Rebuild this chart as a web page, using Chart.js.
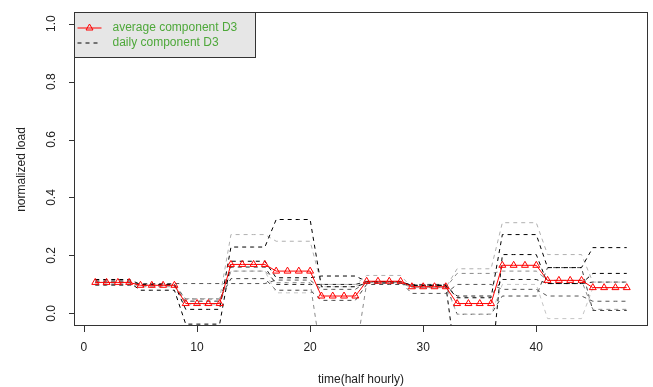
<!DOCTYPE html>
<html>
<head>
<meta charset="utf-8">
<script src="https://cdn.jsdelivr.net/npm/chart.js@4/dist/chart.umd.min.js"></script>
<style>
html,body{margin:0;padding:0;background:#fff;}
#wrap{width:653px;height:387px;position:relative;}
</style>
</head>
<body>
<div id="wrap"><canvas id="c" width="653" height="387"></canvas></div>
<script>
// ---- data ----
const timeSlots = [1,2,3,4,5,6,7,8,9,10,11,12,13,14,15,16,17,18,19,20,21,22,23,24,25,26,27,28,29,30,31,32,33,34,35,36,37,38,39,40,41,42,43,44,45,46,47,48];
const xTicks = [0,10,20,30,40];
const yTicks = [0.0,0.2,0.4,0.6,0.8,1.0];
const yTickLabels = ["0.0","0.2","0.4","0.6","0.8","1.0"];

const averageD3 = [0.107,0.107,0.107,0.107, 0.097,0.097,0.097,0.097, 0.034,0.034,0.034,0.034, 0.169,0.169,0.169,0.169, 0.146,0.146,0.146,0.146, 0.060,0.060,0.060,0.060, 0.111,0.111,0.111,0.111, 0.092,0.092,0.092,0.092, 0.034,0.034,0.034,0.034, 0.166,0.166,0.166,0.166, 0.114,0.114,0.114,0.114, 0.089,0.089,0.089,0.089];

const daily1 = [0.117,0.117,0.117,0.117, 0.100,0.100,0.100,0.100, 0.014,0.014,0.014,0.014, 0.229,0.229,0.229,0.229, 0.324,0.324,0.324,0.324, 0.092,0.092,0.092,0.092, 0.105,0.105,0.105,0.105, 0.097,0.097,0.097,0.097, 0.054,0.054,0.054,0.054, 0.272,0.272,0.272,0.272, 0.158,0.158,0.158,0.158, 0.227,0.227,0.227,0.227];
const daily2 = [0.107,0.107,0.107,0.107, 0.092,0.092,0.092,0.092, 0.051,0.051,0.051,0.051, 0.272,0.272,0.272,0.272, 0.249,0.249,0.249,0.249, 0.100,0.100,0.100,0.100, 0.131,0.131,0.131,0.131, 0.089,0.089,0.089,0.089, 0.154,0.154,0.154,0.154, 0.313,0.313,0.313,0.313, 0.203,0.203,0.203,0.203, 0.108,0.108,0.108,0.108];
const daily3 = [0.107,0.107,0.107,0.107, 0.080,0.080,0.080,0.080, -0.037,-0.037,-0.037,-0.037, 0.180,0.180,0.180,0.180, 0.123,0.123,0.123,0.123, 0.129,0.129,0.129,0.129, 0.110,0.110,0.110,0.110, 0.097,0.097,0.097,0.097, -0.200,-0.200,-0.200,-0.200, 0.203,0.203,0.203,0.203, 0.103,0.103,0.103,0.103, 0.138,0.138,0.138,0.138];
const daily4 = [0.100,0.100,0.100,0.100, 0.103,0.103,0.103,0.103, 0.103,0.103,0.103,0.103, 0.103,0.103,0.103,0.103, 0.115,0.115,0.115,0.115, 0.083,0.083,0.083,0.083, 0.108,0.108,0.108,0.108, 0.069,0.069,0.069,0.069, 0.100,0.100,0.100,0.100, 0.083,0.083,0.083,0.083, 0.060,0.060,0.060,0.060, 0.042,0.042,0.042,0.042];
const daily5 = [0.110,0.110,0.110,0.110, 0.097,0.097,0.097,0.097, 0.042,0.042,0.042,0.042, 0.146,0.146,0.146,0.146, 0.106,0.106,0.106,0.106, -0.150,-0.150,-0.150,-0.150, 0.105,0.105,0.105,0.105, 0.089,0.089,0.089,0.089, 0.138,0.138,0.138,0.138, 0.146,0.146,0.146,0.146, 0.114,0.114,0.114,0.114, 0.014,0.014,0.014,0.014];
const daily6 = [0.112,0.112,0.112,0.112, 0.095,0.095,0.095,0.095, 0.042,0.042,0.042,0.042, 0.160,0.160,0.160,0.160, 0.100,0.100,0.100,0.100, 0.100,0.100,0.100,0.100, 0.110,0.110,0.110,0.110, 0.095,0.095,0.095,0.095, 0.060,0.060,0.060,0.060, 0.117,0.117,0.117,0.117, 0.103,0.103,0.103,0.103, 0.108,0.108,0.108,0.108];
const daily7 = [0.103,0.103,0.103,0.103, 0.100,0.100,0.100,0.100, 0.030,0.030,0.030,0.030, 0.146,0.146,0.146,0.146, 0.071,0.071,0.071,0.071, 0.092,0.092,0.092,0.092, 0.110,0.110,0.110,0.110, 0.092,0.092,0.092,0.092, -0.003,-0.003,-0.003,-0.003, 0.100,0.100,0.100,0.100, -0.018,-0.018,-0.018,-0.018, 0.088,0.088,0.088,0.088];
const daily8 = [0.097,0.097,0.097,0.097, 0.100,0.100,0.100,0.100, 0.050,0.050,0.050,0.050, 0.120,0.120,0.120,0.120, 0.080,0.080,0.080,0.080, 0.045,0.045,0.045,0.045, 0.100,0.100,0.100,0.100, 0.100,0.100,0.100,0.100, -0.003,-0.003,-0.003,-0.003, 0.060,0.060,0.060,0.060, 0.158,0.158,0.158,0.158, 0.010,0.010,0.010,0.010];

const dailySeries = [daily1,daily2,daily3,daily4,daily5,daily6,daily7,daily8];
const dailyColors = ["#000000","#b0b0b0","#000000","#555555","#8a8a8a","#222222","#c4c4c4","#444444"];

const legendLabels = ["average component D3","daily component D3"];
const xTitle = "time(half hourly)";
const yTitle = "normalized load";

// ---- build datasets ----
function pts(arr){ return timeSlots.map((t,i)=>({x:t,y:arr[i]})); }
const datasets = [{
  label: legendLabels[0],
  data: pts(averageD3),
  borderColor: "#ff0000",
  borderWidth: 1,
  pointStyle: "triangle",
  pointRadius: 4,
  pointBorderColor: "#ff0000",
  pointBackgroundColor: "rgba(0,0,0,0)",
  pointBorderWidth: 1,
  fill: false,
  tension: 0,
  clip: 0
}];
dailySeries.forEach((s,i)=>{
  datasets.push({
    label: legendLabels[1],
    data: pts(s),
    borderColor: dailyColors[i],
    borderWidth: 1,
    borderDash: [4,4],
    pointRadius: 0,
    fill: false,
    tension: 0,
    clip: 0
  });
});

const FONT = '12px "Liberation Sans", Arial, sans-serif';
const TXT = "#222222";

const rAxes = {
  id: "rAxes",
  afterDraw(chart){
    const ctx = chart.ctx, ca = chart.chartArea;
    const xs = chart.scales.x, ys = chart.scales.y;
    ctx.save();
    // box
    ctx.strokeStyle = "#333";
    ctx.lineWidth = 1;
    ctx.setLineDash([]);
    ctx.strokeRect(Math.round(ca.left)+0.5, Math.round(ca.top)+0.5, Math.round(ca.right-ca.left)-1, Math.round(ca.bottom-ca.top));
    // y axis
    ctx.beginPath();
    yTicks.forEach(v=>{
      const y = Math.round(ys.getPixelForValue(v))+0.5;
      ctx.moveTo(ca.left-5, y); ctx.lineTo(ca.left, y);
    });
    ctx.stroke();
    ctx.fillStyle = TXT;
    ctx.font = FONT;
    ctx.textAlign = "center";
    ctx.textBaseline = "middle";
    yTicks.forEach((v,i)=>{
      const y = ys.getPixelForValue(v);
      ctx.save();
      ctx.translate(52, y);
      ctx.rotate(-Math.PI/2);
      ctx.fillText(yTickLabels[i], 0, 0);
      ctx.restore();
    });
    // x axis
    ctx.beginPath();
    xTicks.forEach(v=>{
      const x = Math.round(xs.getPixelForValue(v))+0.5;
      ctx.moveTo(x, ca.bottom+1); ctx.lineTo(x, ca.bottom+7);
    });
    ctx.stroke();
    xTicks.forEach(v=>{
      ctx.fillText(String(v), xs.getPixelForValue(v), ca.bottom+23);
    });
    // titles
    ctx.fillText(xTitle, (ca.left+ca.right)/2, ca.bottom+55);
    ctx.save();
    ctx.translate(22, (ca.top+ca.bottom)/2 + 1);
    ctx.rotate(-Math.PI/2);
    ctx.fillText(yTitle, 0, 0);
    ctx.restore();
    // legend
    const lx = Math.round(ca.left)+0.5, ly = Math.round(ca.top)+0.5, lw = 181, lh = 45;
    ctx.fillStyle = "#e6e6e6";
    ctx.fillRect(lx, ly, lw, lh);
    ctx.strokeStyle = "#333";
    ctx.strokeRect(lx, ly, lw, lh);
    // red line + triangle
    const r1 = ly + 15.5, r2 = ly + 30.5;
    ctx.strokeStyle = "#ff0000";
    ctx.beginPath(); ctx.moveTo(lx+3, r1); ctx.lineTo(lx+27, r1); ctx.stroke();
    ctx.beginPath();
    const cx = lx+15, tr = 4;
    ctx.moveTo(cx, r1-tr); ctx.lineTo(cx+tr*0.87, r1+tr*0.5); ctx.lineTo(cx-tr*0.87, r1+tr*0.5); ctx.closePath();
    ctx.stroke();
    ctx.strokeStyle = "#000";
    ctx.setLineDash([4,4]);
    ctx.beginPath(); ctx.moveTo(lx+3, r2); ctx.lineTo(lx+27, r2); ctx.stroke();
    ctx.setLineDash([]);
    ctx.fillStyle = "#4ea83a";
    ctx.textAlign = "left";
    ctx.fillText(legendLabels[0], lx+38, r1);
    ctx.fillText(legendLabels[1], lx+38, r2);
    ctx.restore();
  }
};

new Chart(document.getElementById("c"), {
  type: "line",
  data: { datasets },
  options: {
    responsive: false,
    animation: false,
    events: [],
    layout: { padding: { left: 74, right: 1, top: 12, bottom: 62 } },
    plugins: { legend: { display: false }, tooltip: { enabled: false } },
    scales: {
      x: { type: "linear", min: -0.88, max: 49.88, display: false },
      y: { type: "linear", min: -0.04, max: 1.04, display: false }
    }
  },
  plugins: [rAxes]
});
</script>
</body>
</html>
